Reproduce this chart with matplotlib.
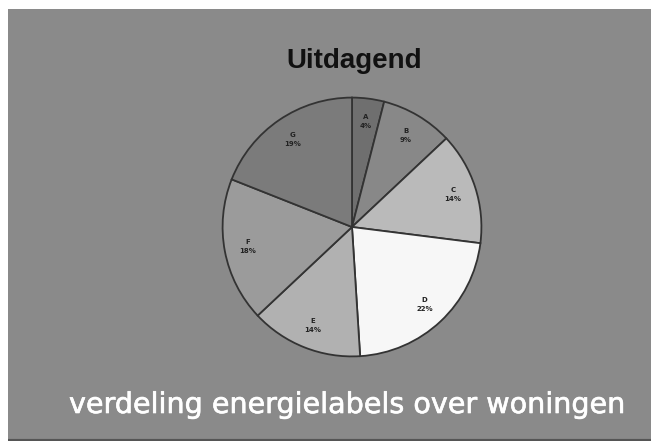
import matplotlib
matplotlib.use("Agg")
import numpy as np
import matplotlib.pyplot as plt
import matplotlib.patheffects as pe

labels = ["A", "B", "C", "D", "E", "F", "G"]
shares = [4, 9, 14, 22, 14, 18, 19]
colors = ["#6f6f6f", "#888888", "#bababa", "#f7f7f7", "#b1b1b1", "#9b9b9b", "#7b7b7b"]

title = "Uitdagend"
caption = "verdeling energielabels over woningen"

W, H = 651, 441
fig = plt.figure(figsize=(W / 100, H / 100), dpi=100)
fig.patch.set_facecolor("white")

# grey panel with a white margin on the top and left, dark rule at the bottom
bg = fig.add_axes([8 / W, 0, 1 - 8 / W, 1 - 9 / H], zorder=0)
bg.set_facecolor("#8a8a8a")
bg.set_xticks([])
bg.set_yticks([])
for s in bg.spines.values():
    s.set_visible(False)
bg.axhline(0, color="#555555", linewidth=3)
bg.set_ylim(0, 1)

cx, cy, r = 352, 227, 132
ax = fig.add_axes([(cx - r) / W, (H - cy - r) / H, 2 * r / W, 2 * r / H], zorder=2)
ax.set_facecolor("none")
wedges, _ = ax.pie(shares, colors=colors, startangle=90, counterclock=False,
                   radius=1, wedgeprops=dict(edgecolor="#333333", linewidth=1.3))
ax.set_xlim(-1.02, 1.02)
ax.set_ylim(-1.02, 1.02)
ax.set_aspect("equal")
ax.axis("off")

start = 90.0
for lab, v in zip(labels, shares):
    mid = np.deg2rad(start - v * 3.6 / 2)
    start -= v * 3.6
    d = 0.82
    ax.text(d * np.cos(mid), d * np.sin(mid), f"{lab}\n{v}%", ha="center",
            va="center", fontsize=5, fontweight="bold", color="#222222",
            linespacing=1.6)

fig.text(354 / W, 1 - 61 / H, title, ha="center", va="center", fontsize=20,
         fontweight="bold", color="#111111", family="Liberation Sans")
fig.text(348 / W, 1 - 405 / H, caption, ha="center", va="center", fontsize=20.6,
         color="white", family="DejaVu Sans",
         path_effects=[pe.withStroke(linewidth=0.45, foreground="white")])

fig.savefig("out.png", dpi=100, facecolor=fig.get_facecolor())
